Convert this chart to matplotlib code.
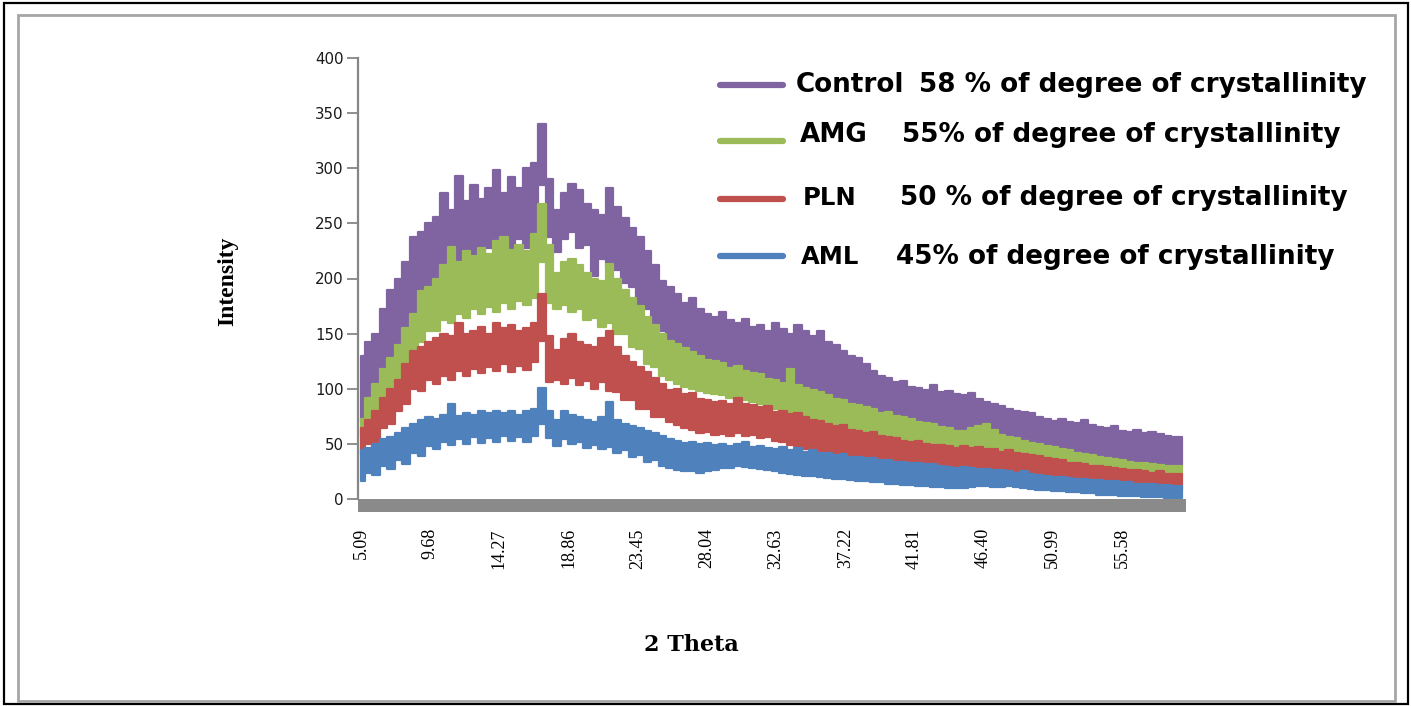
import numpy as np
import matplotlib
matplotlib.use("Agg")
import matplotlib.pyplot as plt
from matplotlib.patches import Rectangle
from matplotlib.lines import Line2D

# ---------------- data ----------------
theta_start = 5.09
theta_step = 0.5

ctrl_hi = [130, 142, 150, 172, 190, 200, 215, 238, 242, 250,
           256, 278, 262, 293, 270, 285, 272, 282, 298, 278,
           292, 282, 300, 305, 340, 290, 262, 278, 286, 280,
           268, 262, 258, 282, 265, 255, 246, 238, 225, 212,
           198, 192, 186, 178, 182, 172, 168, 165, 170, 162,
           160, 163, 156, 158, 152, 160, 154, 150, 158, 152,
           148, 152, 142, 140, 134, 130, 128, 122, 116, 112,
           110, 106, 107, 102, 101, 99, 103, 97, 98, 95,
           94, 96, 91, 88, 86, 84, 82, 80, 79, 78,
           74, 73, 71, 73, 70, 69, 72, 67, 65, 64,
           66, 62, 61, 63, 60, 61, 59, 57, 56, 56]
ctrl_lo = [70, 90, 96, 116, 120, 140, 145, 165, 170, 184,
           186, 200, 200, 214, 210, 222, 218, 228, 226, 232,
           226, 236, 228, 238, 285, 238, 224, 236, 242, 228,
           230, 202, 218, 210, 208, 196, 192, 176, 172, 156,
           152, 145, 140, 134, 132, 128, 126, 124, 122, 120,
           118, 116, 114, 112, 110, 108, 106, 104, 102, 100,
           98, 96, 92, 90, 88, 85, 82, 80, 78, 75,
           72, 70, 68, 66, 64, 62, 60, 58, 56, 55,
           54, 52, 50, 49, 48, 47, 46, 45, 44, 43,
           42, 41, 40, 39, 38, 37, 36, 36, 35, 34,
           34, 33, 33, 32, 32, 32, 31, 31, 30, 30]

amg_hi = [73, 92, 104, 118, 128, 140, 155, 168, 189, 192,
          200, 212, 229, 215, 225, 220, 228, 222, 234, 238,
          226, 230, 225, 240, 268, 230, 205, 215, 218, 212,
          205, 200, 198, 213, 200, 190, 182, 175, 165, 158,
          150, 143, 141, 137, 133, 130, 126, 125, 123, 119,
          121, 116, 114, 113, 109, 108, 105, 118, 103, 101,
          99, 97, 94, 91, 90, 86, 85, 83, 82, 78,
          79, 75, 74, 73, 70, 69, 68, 65, 64, 62,
          62, 64, 66, 68, 63, 58, 56, 55, 53, 51,
          50, 48, 47, 45, 44, 42, 41, 40, 38, 37,
          36, 35, 34, 33, 33, 32, 31, 30, 30, 30]
amg_lo = [58, 70, 76, 90, 96, 110, 118, 134, 142, 152,
          152, 162, 160, 168, 164, 172, 168, 174, 170, 178,
          172, 180, 176, 182, 215, 178, 172, 176, 170, 172,
          162, 164, 156, 160, 150, 150, 138, 136, 122, 120,
          112, 108, 104, 102, 100, 98, 96, 95, 94, 92,
          91, 90, 88, 86, 84, 82, 80, 78, 76, 74,
          72, 70, 68, 66, 64, 62, 60, 58, 56, 55,
          54, 53, 52, 51, 50, 49, 48, 47, 46, 46,
          45, 44, 44, 43, 42, 41, 40, 39, 38, 37,
          36, 35, 34, 33, 32, 31, 30, 29, 28, 27,
          26, 26, 25, 25, 24, 24, 23, 23, 22, 22]

pln_hi = [64, 72, 80, 92, 100, 108, 122, 134, 138, 142,
          146, 150, 148, 160, 150, 152, 156, 150, 160, 155,
          158, 152, 155, 160, 186, 148, 135, 145, 150, 142,
          140, 138, 146, 152, 138, 130, 124, 120, 115, 110,
          104, 99, 100, 95, 96, 91, 90, 88, 89, 86,
          92, 86, 85, 83, 84, 79, 80, 77, 78, 74,
          72, 71, 68, 66, 67, 63, 62, 60, 61, 57,
          56, 55, 53, 52, 53, 50, 49, 49, 48, 46,
          48, 46, 47, 45, 45, 43, 44, 42, 41, 40,
          39, 37, 36, 35, 33, 33, 32, 30, 30, 29,
          28, 27, 26, 26, 25, 24, 25, 23, 23, 23]
pln_lo = [40, 50, 52, 64, 68, 80, 86, 100, 98, 108,
          104, 112, 108, 116, 112, 118, 114, 120, 116, 122,
          115, 121, 117, 124, 143, 106, 108, 104, 110, 103,
          107, 100, 106, 98, 97, 90, 90, 82, 82, 74,
          74, 70, 67, 64, 63, 60, 61, 58, 59, 57,
          60, 57, 58, 55, 56, 53, 52, 49, 48, 45,
          44, 42, 41, 39, 39, 37, 36, 35, 35, 33,
          32, 31, 31, 30, 30, 29, 29, 28, 28, 27,
          26, 26, 25, 24, 24, 22, 22, 21, 20, 19,
          19, 18, 17, 16, 16, 15, 15, 14, 14, 13,
          13, 12, 12, 11, 12, 11, 11, 10, 10, 9]

aml_hi = [44, 46, 50, 54, 56, 60, 64, 68, 72, 74,
          73, 76, 86, 75, 78, 76, 80, 78, 80, 78,
          80, 76, 80, 82, 101, 80, 72, 80, 76, 74,
          72, 70, 74, 88, 72, 68, 66, 64, 62, 60,
          57, 54, 53, 51, 52, 50, 51, 49, 50, 48,
          50, 52, 47, 48, 46, 45, 47, 44, 46, 43,
          44, 42, 42, 40, 41, 38, 38, 37, 37, 35,
          35, 34, 34, 33, 33, 32, 32, 30, 29, 28,
          29, 28, 27, 27, 26, 26, 25, 24, 25, 23,
          22, 21, 20, 20, 19, 18, 18, 17, 17, 16,
          16, 15, 15, 14, 14, 14, 13, 13, 12, 12]
aml_lo = [16, 24, 22, 30, 27, 35, 32, 42, 39, 48,
          45, 52, 49, 54, 50, 56, 51, 55, 52, 57,
          53, 56, 52, 57, 68, 55, 48, 54, 50, 52,
          46, 49, 45, 47, 42, 44, 38, 40, 34, 35,
          30, 28, 26, 25, 25, 24, 25, 26, 28, 28,
          30, 29, 28, 27, 26, 25, 24, 23, 22, 21,
          21, 20, 19, 18, 18, 17, 16, 16, 15, 15,
          14, 14, 13, 13, 12, 12, 11, 11, 10, 10,
          10, 11, 12, 12, 11, 11, 12, 11, 10, 9,
          8, 8, 7, 7, 6, 6, 5, 5, 4, 4,
          4, 3, 3, 3, 2, 2, 2, 1, 1, 1]

series_names = ["Control", "AMG", "PLN", "AML"]
series_desc = ["58 % of degree of crystallinity",
               "55% of degree of crystallinity",
               "50 % of degree of crystallinity",
               "45% of degree of crystallinity"]
series_colors = ["#8064A2", "#9BBB59", "#C0504D", "#4F81BD"]
series_hi = [ctrl_hi, amg_hi, pln_hi, aml_hi]
series_lo = [ctrl_lo, amg_lo, pln_lo, aml_lo]

x_tick_vals = [5.09, 9.68, 14.27, 18.86, 23.45, 28.04, 32.63,
               37.22, 41.81, 46.40, 50.99, 55.58]
x_tick_labels = ["5.09", "9.68", "14.27", "18.86", "23.45", "28.04",
                 "32.63", "37.22", "41.81", "46.40", "50.99", "55.58"]
y_ticks = [0, 50, 100, 150, 200, 250, 300, 350, 400]

# ---------------- figure ----------------
W, H = 1411, 706
fig = plt.figure(figsize=(W / 100, H / 100), dpi=100)
fig.patch.set_facecolor("white")

def fx(px):
    return px / W

def fy(py):
    return 1 - py / H

# frames
fig.add_artist(Rectangle((fx(4), fy(704)), fx(1404), 701 / H, fill=False,
                         edgecolor="black", lw=1.6, transform=fig.transFigure))
fig.add_artist(Rectangle((fx(18), fy(701)), fx(1377), 686 / H, fill=False,
                         edgecolor="#a6a6a6", lw=2.0, transform=fig.transFigure))

ax = fig.add_axes([fx(358), fy(499), fx(1186 - 358), (499 - 58) / H])

for hi, lo, col in zip(series_hi, series_lo, series_colors):
    hi = np.asarray(hi, float)
    lo = np.asarray(lo, float)
    th = theta_start + theta_step * np.arange(len(hi))
    ax.fill_between(th, lo, hi, step="mid", color=col, lw=1.6,
                    edgecolor=col, joinstyle="round")

ax.set_xlim(4.89, 59.83)
ax.set_ylim(0, 400)

for s in ["top", "right", "bottom"]:
    ax.spines[s].set_visible(False)
ax.spines["left"].set_color("#868686")
ax.spines["left"].set_linewidth(1.6)
ax.spines["left"].set_zorder(5)

ax.set_yticks(y_ticks)
ax.set_yticklabels([str(v) for v in y_ticks], fontfamily="DejaVu Sans",
                   fontsize=10.8, color="#1a1a1a")
ax.tick_params(axis="y", length=8, width=1.3, color="#868686", pad=2.5)

ax.set_xticks(x_tick_vals)
ax.set_xticklabels(x_tick_labels, rotation=90, fontfamily="Liberation Serif",
                   fontsize=13, color="black")
ax.tick_params(axis="x", length=0, pad=21)

# grey floor under the plot
ax.add_patch(Rectangle((0, -13 / 441), 1, 13 / 441, transform=ax.transAxes,
                       facecolor="#8a8a8a", edgecolor="none", clip_on=False,
                       zorder=4))

# axis titles
fig.text(fx(228), fy(281), "Intensity", rotation=90, ha="center", va="center",
         fontfamily="Liberation Serif", fontweight="bold", fontsize=17)
fig.text(fx(691), fy(645), "2 Theta", ha="center", va="center",
         fontfamily="DejaVu Serif", fontweight="bold", fontsize=16)

# legend-like annotations
line_y = [85, 141, 199, 256]
text_y = [85, 135, 198, 257]
name_x = [796, 800, 803, 801]
desc_x = [919, 902, 900, 896]
name_size = [18.9, 18.9, 17.5, 17.5]
for i in range(4):
    fig.add_artist(Line2D([fx(720), fx(783)], [fy(line_y[i]), fy(line_y[i])],
                          color=series_colors[i], lw=4.5,
                          solid_capstyle="round", transform=fig.transFigure))
    fig.text(fx(name_x[i]), fy(text_y[i]), series_names[i], ha="left",
             va="center", fontfamily="DejaVu Sans", fontweight="bold",
             fontsize=name_size[i], color="black")
    fig.text(fx(desc_x[i]), fy(text_y[i]), series_desc[i], ha="left",
             va="center", fontfamily="DejaVu Sans", fontweight="bold",
             fontsize=18.9, color="black")

fig.savefig("out.png", dpi=100, facecolor="white")
